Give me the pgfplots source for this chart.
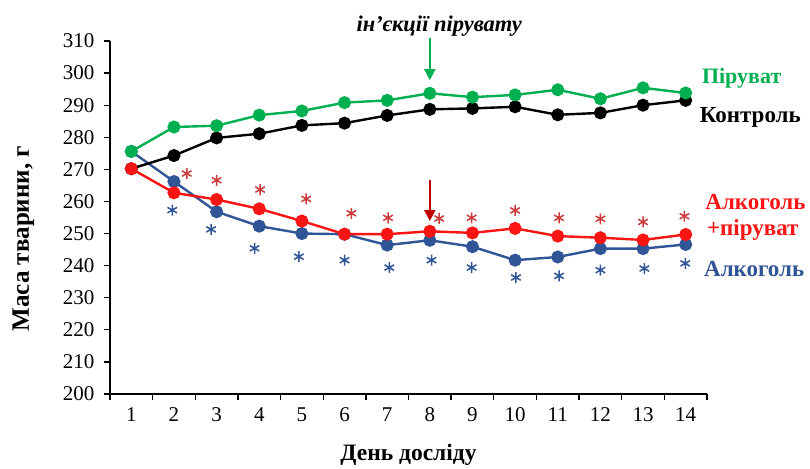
\documentclass[border=0pt]{standalone}
\usepackage{fontspec}
\setmainfont{Liberation Serif}
\usepackage{pgfplots}
\pgfplotsset{compat=1.18}
\usetikzlibrary{arrows.meta}
\definecolor{cgreen}{RGB}{0,176,80}
\definecolor{cblue}{RGB}{47,85,151}
\definecolor{cred}{RGB}{250,20,20}
\definecolor{cstar}{RGB}{205,60,60}
\definecolor{cdark}{RGB}{192,0,0}
\begin{document}
\begin{tikzpicture}[x=1pt,y=1pt]
\path[use as bounding box] (0,0) rectangle (810,468);
\begin{axis}[
  at={(110pt,74pt)}, anchor=south west,
  scale only axis, width=597pt, height=353pt,
  xmin=0.5, xmax=14.5, ymin=200, ymax=310,
  axis lines*=left,
  axis line style={line width=1.3pt, black},
  xtick={1,...,14},
  minor xtick={0.5,1.5,...,14.5},
  major x tick style={draw=none},
  minor x tick style={line width=1.3pt, black},
  minor tick length=6pt,
  ytick={200,210,...,310},
  y tick style={line width=1.3pt, black},
  major tick length=6pt,
  tick align=outside,
  tick label style={font=\fontsize{21}{21}\selectfont},
  xticklabel style={yshift=-4pt},
  yticklabel style={xshift=-6pt},
  /pgf/number format/assume math mode=true,
  xlabel={День досліду},
  ylabel={Маса тварини, г},
  xlabel style={font=\fontsize{23.5}{23.5}\selectfont\bfseries, at={(axis description cs:0.5,-0.172)}, anchor=center},
  ylabel style={font=\fontsize{25}{25}\selectfont\bfseries, at={(axis description cs:-0.145,0.44)}, anchor=center, rotate=0},
  clip=false,
  every axis plot/.append style={line width=2.4pt},
]
% Alcohol (blue)
\addplot[cblue, mark=*, mark size=5.3pt] coordinates {
(1,275.6) (2,266.2) (3,256.8) (4,252.3) (5,250.0) (6,249.8) (7,246.4)
(8,247.9) (9,245.9) (10,241.7) (11,242.7) (12,245.3) (13,245.3) (14,246.6)};
% Control (black)
\addplot[black, mark=*, mark size=5.3pt] coordinates {
(1,270.2) (2,274.3) (3,279.8) (4,281.1) (5,283.7) (6,284.4) (7,286.8)
(8,288.7) (9,289.0) (10,289.5) (11,287.0) (12,287.6) (13,290.0) (14,291.5)};
% Alcohol + pyruvate (red)
\addplot[cred, mark=*, mark size=5.3pt] coordinates {
(1,270.2) (2,262.7) (3,260.6) (4,257.7) (5,253.9) (6,249.8) (7,249.8)
(8,250.7) (9,250.2) (10,251.6) (11,249.2) (12,248.7) (13,248.0) (14,249.7)};
% Pyruvate (green)
\addplot[cgreen, mark=*, mark size=5.3pt] coordinates {
(1,275.6) (2,283.2) (3,283.6) (4,286.9) (5,288.2) (6,290.8) (7,291.5)
(8,293.7) (9,292.5) (10,293.2) (11,294.8) (12,292.0) (13,295.4) (14,293.8)};
% significance asterisks
\addplot[only marks, cstar, mark=asterisk, mark size=5.5pt, line width=1.5pt] coordinates {
(2.3,268.7) (3,266.6) (4.02,263.7) (5.1,260.8) (6.16,256.3) (7.02,254.9) (8.22,254.7)
(8.98,254.9) (10,257.2) (11.03,254.9) (12,254.6) (13,253.6) (13.97,255.4)};
\addplot[only marks, cblue, mark=asterisk, mark size=5.5pt, line width=1.5pt] coordinates {
(1.96,257.3) (2.87,251.3) (3.89,245.4) (4.93,242.8) (6,241.7) (7.05,239.4) (8.04,241.7)
(8.98,239.4) (10.02,236.3) (11.03,236.8) (12,238.6) (13.03,239.1) (13.99,240.7)};
% arrows
\draw[cgreen, line width=2pt, -{Triangle[length=11pt,width=11pt]}] (axis cs:8,310.8) -- (axis cs:8,297.8);
\draw[cdark, line width=2pt, -{Triangle[length=11pt,width=11pt]}] (axis cs:8,266.8) -- (axis cs:8,253.9);
\node[font=\fontsize{22.5}{22.5}\selectfont\bfseries\itshape] at (axis cs:8.22,314.6) {ін'єкції пірувату};
% series labels
\node[anchor=west, text=cgreen, font=\fontsize{22}{22}\selectfont\bfseries] at (axis cs:14.3,298.5) {Піруват};
\node[anchor=west, text=black, font=\fontsize{23}{23}\selectfont\bfseries] at (axis cs:14.25,286.1) {Контроль};
\node[anchor=west, text=cred, font=\fontsize{23}{23}\selectfont\bfseries] at (axis cs:14.38,259.7) {Алкоголь};
\node[anchor=west, text=cred, font=\fontsize{23}{23}\selectfont\bfseries] at (axis cs:14.42,251.0) {+піруват};
\node[anchor=west, text=cblue, font=\fontsize{23}{23}\selectfont\bfseries] at (axis cs:14.35,238.9) {Алкоголь};
\end{axis}
\end{tikzpicture}
\end{document}
